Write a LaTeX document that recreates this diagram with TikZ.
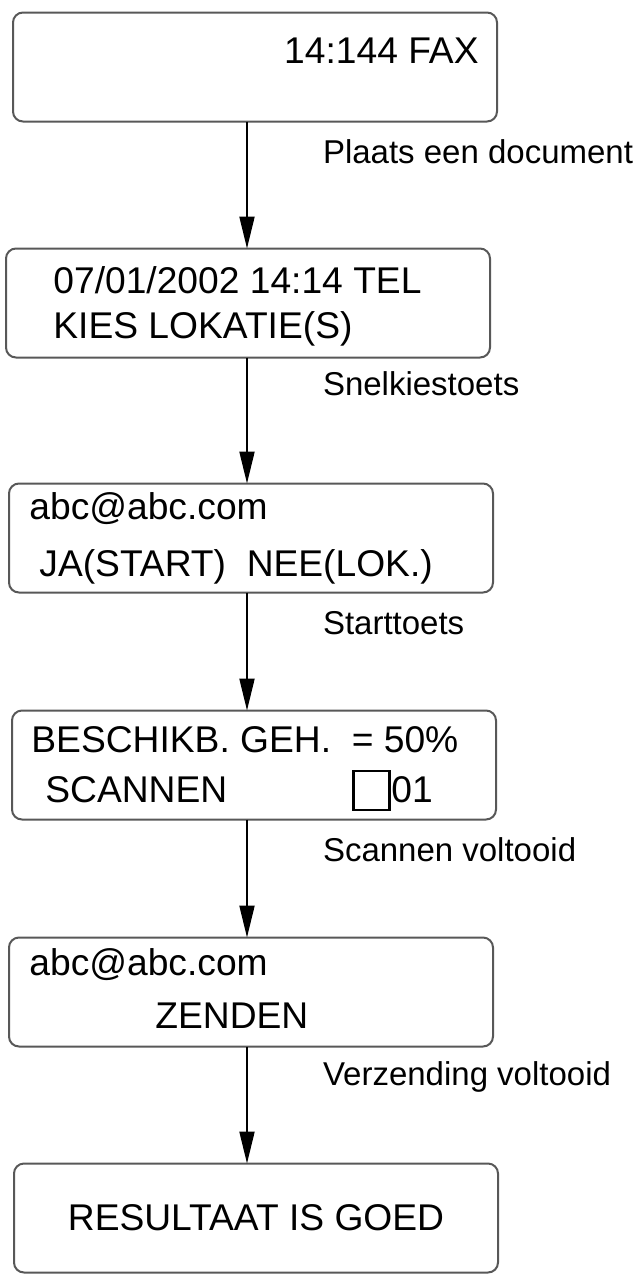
\documentclass[tikz,border=0pt]{standalone}
\usepackage{fontspec}
\setmainfont{Liberation Sans}
\usepackage{xcolor}
\usetikzlibrary{arrows.meta, positioning}

\definecolor{framegray}{RGB}{88,88,88}
\newcommand{\scrfont}{\fontsize{18.6}{22}\selectfont}
\newcommand{\keyfont}{\fontsize{16.5}{20}\selectfont}

\begin{document}
\begin{tikzpicture}[
    box/.style={
        rectangle, draw=framegray, line width=1pt, rounded corners=5pt,
        minimum width=242pt, minimum height=54.5pt,
        inner sep=0pt, outer sep=0pt, font=\scrfont
    },
    screen/.style={anchor=base west, inner sep=0pt, font=\scrfont},
    keylabel/.style={anchor=base west, inner sep=0pt, xshift=37.5pt, font=\keyfont},
    cursorbox/.style={draw, line width=1.4pt, minimum width=18pt, minimum height=19.5pt, inner sep=0pt},
    arrow/.style={-{Triangle[length=16pt,width=7.5pt]}, line width=1pt}
]
\useasboundingbox (0,0) rectangle (317.5pt,-638pt);

% Display states, top to bottom
\node[box] (idle) at (127.5pt,-33.5pt) {};
\node[box, below=63.5pt of idle, xshift=-3.5pt]  (select)  {};
\node[box, below=63pt of select, xshift=1.5pt]   (confirm) {};
\node[box, below=59pt of confirm, xshift=1.5pt]  (scan)    {};
\node[box, below=59pt of scan, xshift=-1.5pt]    (send)    {};
\node[box, below=58.5pt of send, xshift=2.5pt]   (result)  {RESULTAAT IS GOED};

% Screen texts
\node[screen, anchor=base east] (clock) at ([shift={(-9pt,-25.5pt)}]idle.north east) {14:144 FAX};
\node[screen] (date)   at ([shift={(23.5pt,-22.5pt)}]select.north west) {07/01/2002 14:14 TEL};
\node[screen] (choose) at ([shift={(23.5pt,-45pt)}]select.north west)   {KIES LOKATIE(S)};
\node[screen] (mail)   at ([shift={(10pt,-18pt)}]confirm.north west)    {abc@abc.com};
\node[screen] (yesno)  at ([shift={(15pt,-46.5pt)}]confirm.north west)  {JA(START)~~NEE(LOK.)};
\node[screen] (memory) at ([shift={(9.5pt,-21pt)}]scan.north west)      {BESCHIKB. GEH.~~= 50\%};
\node[screen] (scanning) at ([shift={(16.5pt,-46pt)}]scan.north west)   {SCANNEN};
\node[cursorbox] (cursor) at ([shift={(179.75pt,-40pt)}]scan.north west) {};
\node[screen] (count)  at ([shift={(189.5pt,-46pt)}]scan.north west)    {01};
\node[screen] (mail2)  at ([shift={(10pt,-19pt)}]send.north west)       {abc@abc.com};
\node[screen] (sending) at ([shift={(73pt,-45.5pt)}]send.north west)    {ZENDEN};

% Main spine arrows
\coordinate (spine) at (123.5pt,0);
\draw[arrow] (idle.south -| spine)    -- node[keylabel, pos=0.33]  (k1) {Plaats een document} (select.north -| spine);
\draw[arrow] (select.south -| spine)  -- node[keylabel, pos=0.30]  (k2) {Snelkiestoets}       (confirm.north -| spine);
\draw[arrow] (confirm.south -| spine) -- node[keylabel, pos=0.36]  (k3) {Starttoets}          (scan.north -| spine);
\draw[arrow] (scan.south -| spine)    -- node[keylabel, pos=0.36]  (k4) {Scannen voltooid}    (send.north -| spine);
\draw[arrow] (send.south -| spine)    -- node[keylabel, pos=0.33]  (k5) {Verzending voltooid} (result.north -| spine);

\end{tikzpicture}
\end{document}
